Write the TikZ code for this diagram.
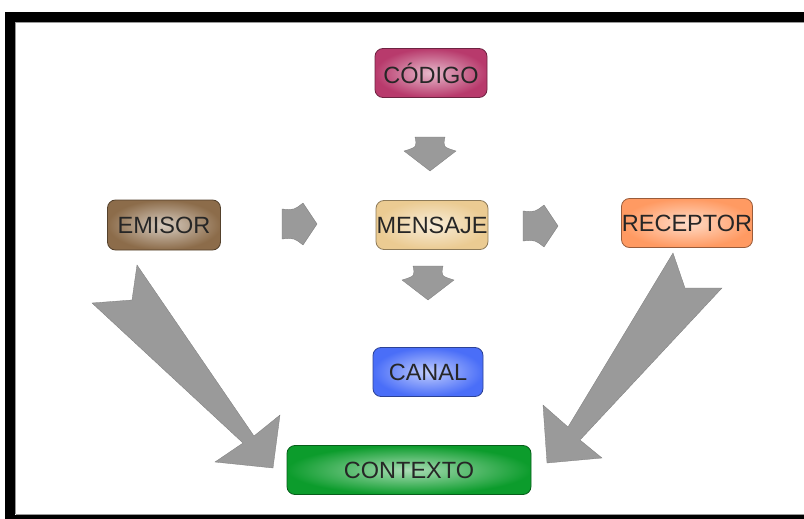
\documentclass[tikz,border=0pt]{standalone}
\usepackage{fontspec}
\setmainfont{Liberation Sans}
\begin{document}
\begin{tikzpicture}[x=1pt,y=-1pt,
  box/.style={draw=#1!60!black, line width=0.8pt, rounded corners=8pt, shading=radial,
    outer color=#1, inner color=#1!35!white, text=black!85,
    font=\fontsize{23.5}{26}\selectfont, inner sep=0pt, anchor=center},
  blk/.style={fill=arrowgray, draw=arrowgray!80!black, line width=0.3pt}]
\definecolor{arrowgray}{HTML}{9A9A9A}
\definecolor{cCod}{HTML}{B83A6C}
\definecolor{cEmi}{HTML}{8C6C4A}
\definecolor{cMen}{HTML}{EBCB92}
\definecolor{cRec}{HTML}{FF9A62}
\definecolor{cCan}{HTML}{4A6EF8}
\definecolor{cCon}{HTML}{0C9C2C}
\useasboundingbox (0,0) rectangle (804,519);
\begin{scope}
\clip (0,0) rectangle (804,519);
\draw[line width=10pt, black] (10,17) rectangle (830,519.5);
\draw[line width=1pt, black!40] (15.5,22.5) -- (830,22.5);
\draw[line width=1pt, black!40] (15.5,22.5) -- (15.5,514);
\draw[line width=1pt, black!40] (15.5,514) -- (830,514);
\end{scope}
% nodes
\node[box=cCod, minimum width=112pt, minimum height=49pt] (codigo) at (431,73) {CÓDIGO};
\node[box=cEmi, minimum width=113pt, minimum height=50pt] (emisor) at (164,225) {EMISOR};
\node[box=cMen, minimum width=112pt, minimum height=49pt] (mensaje) at (432,225) {MENSAJE};
\node[box=cRec, minimum width=131pt, minimum height=49pt] (receptor) at (687,223) {RECEPTOR};
\node[box=cCan, minimum width=110pt, minimum height=49pt] (canal) at (428,372) {CANAL};
\node[box=cCon, minimum width=244pt, minimum height=49pt] (contexto) at (409,470) {CONTEXTO};
% small down arrows
\coordinate (d1) at (430,137);
\coordinate (d2) at (428,266);
\foreach \c in {d1,d2}{
  \filldraw[blk] ([shift={(-15,0)}]\c) -- ([shift={(15,0)}]\c)
    .. controls ([shift={(13,10)}]\c) .. ([shift={(26,14)}]\c)
    -- ([shift={(0,34)}]\c) -- ([shift={(-26,14)}]\c)
    .. controls ([shift={(-13,10)}]\c) .. cycle;
}
% small right arrows
\coordinate (r1) at (282,224);
\coordinate (r2) at (523,226);
\foreach \c in {r1,r2}{
  \filldraw[blk] ([shift={(0,-15)}]\c) -- ([shift={(0,15)}]\c)
    .. controls ([shift={(12,14)}]\c) .. ([shift={(21,21)}]\c)
    -- ([shift={(35,0)}]\c) -- ([shift={(21,-21)}]\c)
    .. controls ([shift={(12,-14)}]\c) .. cycle;
}
% big left arrow (EMISOR -> CONTEXTO)
\filldraw[blk] (137,265) -- (254,436) -- (280,415) -- (273,468) -- (215,462)
  -- (243,443) -- (92,303) -- (132,300) -- cycle;
% big right arrow (RECEPTOR -> CONTEXTO)
\filldraw[blk] (673,253) -- (685,288) -- (722,288) -- (580,440) -- (602,458)
  -- (547,463) -- (543,405) -- (568,427) -- cycle;
\end{tikzpicture}
\end{document}
